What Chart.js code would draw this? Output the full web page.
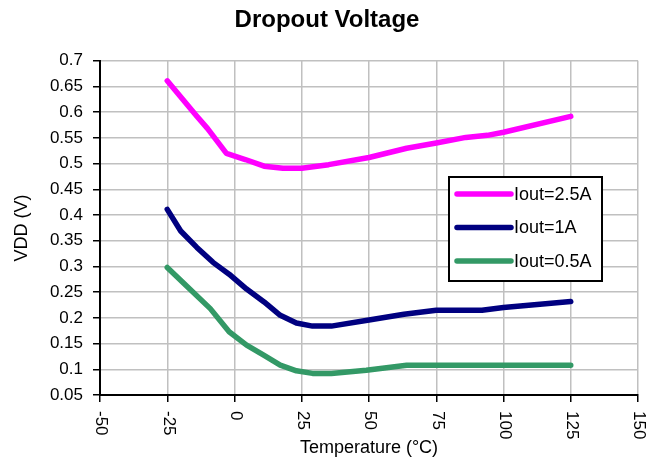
<!DOCTYPE html>
<html>
<head>
<meta charset="utf-8">
<script src="https://cdn.jsdelivr.net/npm/chart.js@4/dist/chart.umd.min.js"></script>
<style>
html,body{margin:0;padding:0;background:#fff;}
#wrap{width:654px;height:461px;}
</style>
</head>
<body>
<div id="wrap"><canvas id="c" width="654" height="461"></canvas></div>
<script>
// ---- data ----
const xTicks = [-50, -25, 0, 25, 50, 75, 100, 125, 150];
const yTicks = [0.05, 0.1, 0.15, 0.2, 0.25, 0.3, 0.35, 0.4, 0.45, 0.5, 0.55, 0.6, 0.65, 0.7];

const tempA = [-25, -14, -10, -3, 4, 11, 18, 25, 35, 50, 64, 75, 86, 94, 100, 125];
const vddA  = [0.661, 0.592, 0.568, 0.520, 0.508, 0.495, 0.491, 0.491, 0.498, 0.512, 0.530, 0.540, 0.551, 0.555, 0.561, 0.592];

const tempB = [-25, -20, -14, -8, -2, 4.5, 11, 17, 23, 29, 36, 50, 63, 75, 92, 100, 125];
const vddB  = [0.411, 0.369, 0.337, 0.308, 0.285, 0.256, 0.231, 0.205, 0.190, 0.184, 0.184, 0.196, 0.207, 0.215, 0.215, 0.220, 0.232];

const tempC = [-25, -18, -9, -2, 4.5, 11, 17, 23, 29, 36, 49, 64, 125];
const vddC  = [0.298, 0.263, 0.218, 0.173, 0.147, 0.127, 0.108, 0.097, 0.092, 0.092, 0.098, 0.108, 0.108];

const seriesNames = ['Iout=2.5A', 'Iout=1A', 'Iout=0.5A'];
const seriesColors = ['#ff00ff', '#000080', '#339966'];

const FONT = '"Liberation Sans", Arial, sans-serif';

function pairs(xs, ys) { return xs.map((x, i) => ({x: x, y: ys[i]})); }

function ds(i, xs, ys) {
  return {
    label: seriesNames[i],
    data: pairs(xs, ys),
    borderColor: seriesColors[i],
    backgroundColor: seriesColors[i],
    borderWidth: 5.5,
    pointRadius: 0,
    tension: 0,
    borderCapStyle: 'round',
    borderJoinStyle: 'round',
    fill: false
  };
}

// rotated (clockwise) x tick labels
const xLabelPlugin = {
  id: 'xLabels',
  afterDraw(chart) {
    const ctx = chart.ctx, sx = chart.scales.x;
    ctx.save();
    ctx.fillStyle = '#000';
    ctx.font = '17px ' + FONT;
    ctx.textAlign = 'left';
    ctx.textBaseline = 'middle';
    xTicks.forEach(v => {
      const px = sx.getPixelForValue(v);
      ctx.save();
      ctx.translate(px + 1, chart.chartArea.bottom + 16);
      ctx.rotate(Math.PI / 2);
      ctx.fillText(String(v), 0, 0);
      ctx.restore();
    });
    ctx.restore();
  }
};

// legend box inside plot
const legendPlugin = {
  id: 'boxLegend',
  afterDatasetsDraw(chart) {
    const ctx = chart.ctx;
    const L = 449, T = 177, W = 153, H = 104;
    ctx.save();
    ctx.fillStyle = '#fff';
    ctx.fillRect(L, T, W, H);
    ctx.strokeStyle = '#000';
    ctx.lineWidth = 2;
    ctx.strokeRect(L, T, W, H);
    ctx.font = '18px ' + FONT;
    ctx.textAlign = 'left';
    ctx.textBaseline = 'middle';
    chart.data.datasets.forEach((d, i) => {
      const y = T + 17 + i * 33.5;
      ctx.strokeStyle = d.borderColor;
      ctx.lineWidth = 5.5;
      ctx.lineCap = 'round';
      ctx.beginPath();
      ctx.moveTo(457, y);
      ctx.lineTo(511, y);
      ctx.stroke();
      ctx.fillStyle = '#000';
      ctx.fillText(d.label, 514, y + 1);
    });
    ctx.restore();
  }
};

new Chart(document.getElementById('c'), {
  type: 'line',
  data: { datasets: [ds(0, tempA, vddA), ds(1, tempB, vddB), ds(2, tempC, vddC)] },
  options: {
    responsive: false,
    animation: false,
    layout: { padding: { left: 16, right: 16, top: 0, bottom: 0 } },
    plugins: {
      legend: { display: false },
      tooltip: { enabled: false },
      title: {
        display: true,
        text: 'Dropout Voltage',
        color: '#000',
        font: { family: FONT, size: 24, weight: 'bold' },
        padding: { top: 6, bottom: 26 }
      }
    },
    scales: {
      x: {
        type: 'linear',
        min: -50, max: 150,
        afterBuildTicks(s) { s.ticks = xTicks.map(v => ({value: v})); },
        afterFit(s) { s.height = 66; },
        ticks: { display: false },
        grid: { color: '#c0c0c0', lineWidth: 1.5, tickLength: 7, tickColor: '#000', tickWidth: 1.5 },
        border: { display: true, color: '#000', width: 2 },
        title: { display: true, text: 'Temperature (°C)', color: '#000', font: { family: FONT, size: 18 }, padding: { top: 0, bottom: 2 } }
      },
      y: {
        type: 'linear',
        min: 0.05, max: 0.7,
        afterBuildTicks(s) { s.ticks = yTicks.map(v => ({value: v})); },
        afterFit(s) { s.width = 84; },
        ticks: {
          color: '#000',
          padding: 10,
          font: { family: FONT, size: 17 },
          callback: v => String(parseFloat(Number(v).toFixed(2)))
        },
        grid: { color: '#c0c0c0', lineWidth: 1.5, tickLength: 7, tickColor: '#000', tickWidth: 1.5 },
        border: { display: true, color: '#000', width: 2 },
        title: { display: true, text: 'VDD (V)', color: '#000', font: { family: FONT, size: 18 }, padding: { top: -5, bottom: 0 } }
      }
    }
  },
  plugins: [xLabelPlugin, legendPlugin]
});
</script>
</body>
</html>
